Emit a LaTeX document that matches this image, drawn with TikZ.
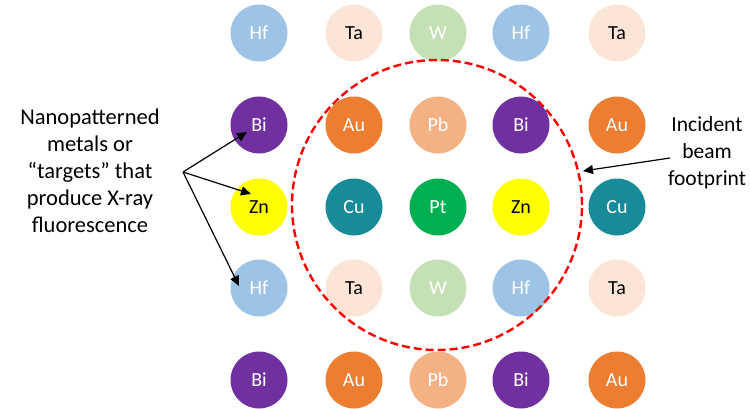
\documentclass[tikz,border=0pt]{standalone}
\usepackage{fontspec}
\setmainfont{Carlito}
\usetikzlibrary{arrows.meta}
\definecolor{cHf}{HTML}{9DC3E6}
\definecolor{cTa}{HTML}{FBE5D6}
\definecolor{cW}{HTML}{C5E0B4}
\definecolor{cBi}{HTML}{7030A0}
\definecolor{cAu}{HTML}{ED7D31}
\definecolor{cPb}{HTML}{F4B183}
\definecolor{cZn}{HTML}{FFFF00}
\definecolor{cCu}{HTML}{178C98}
\definecolor{cPt}{HTML}{00B050}
\definecolor{beam}{HTML}{FF0000}
\tikzset{
  metal/.style={circle, minimum size=57pt, inner sep=0pt, draw=none, font=\fontsize{20}{22}\selectfont},
  whitetxt/.style={metal, text=white},
  blacktxt/.style={metal, text=black},
  Hf/.style={whitetxt, fill=cHf},
  Ta/.style={blacktxt, fill=cTa},
  W/.style={whitetxt, fill=cW},
  Bi/.style={whitetxt, fill=cBi},
  Au/.style={whitetxt, fill=cAu},
  Pb/.style={whitetxt, fill=cPb},
  Zn/.style={blacktxt, fill=cZn},
  Cu/.style={whitetxt, fill=cCu},
  Pt/.style={whitetxt, fill=cPt},
  lbl/.style={align=center, font=\fontsize{22.5}{27}\selectfont, inner sep=0pt},
  lblr/.style={align=center, font=\fontsize{21.5}{27}\selectfont, inner sep=0pt},
  pointer/.style={draw=black, line width=1.2pt, -{Triangle[length=10pt,width=9pt]}},
}
\begin{document}
\begin{tikzpicture}[x=1pt,y=-1pt]
\useasboundingbox (0,0) rectangle (750,408);
% row 1
\node[Hf] (r1a) at (259,33) {Hf};
\node[Ta] (r1b) at (354,33) {Ta};
\node[W]  (r1c) at (438,33) {W};
\node[Hf] (r1d) at (521,33) {Hf};
\node[Ta] (r1e) at (617,33) {Ta};
% row 2
\node[Bi] (r2a) at (259,125) {Bi};
\node[Au] (r2b) at (354,125) {Au};
\node[Pb] (r2c) at (438,125) {Pb};
\node[Bi] (r2d) at (521,125) {Bi};
\node[Au] (r2e) at (617,125) {Au};
% row 3
\node[Zn] (r3a) at (259,207) {Zn};
\node[Cu] (r3b) at (354,207) {Cu};
\node[Pt] (r3c) at (438,207) {Pt};
\node[Zn] (r3d) at (521,207) {Zn};
\node[Cu] (r3e) at (617,207) {Cu};
% row 4
\node[Hf] (r4a) at (259,288) {Hf};
\node[Ta] (r4b) at (354,288) {Ta};
\node[W]  (r4c) at (438,288) {W};
\node[Hf] (r4d) at (521,288) {Hf};
\node[Ta] (r4e) at (617,288) {Ta};
% row 5
\node[Bi] (r5a) at (259,380) {Bi};
\node[Au] (r5b) at (354,380) {Au};
\node[Pb] (r5c) at (438,380) {Pb};
\node[Bi] (r5d) at (521,380) {Bi};
\node[Au] (r5e) at (617,380) {Au};
% beam footprint
\node[circle, draw=beam, dash pattern=on 8pt off 4pt, line width=2.4pt, minimum size=290pt, inner sep=0pt] (beamfp) at (437,205) {};
% labels
\node[lbl] (targets) at (90,171) {Nanopatterned\\metals or\\``targets'' that\\produce X-ray\\fluorescence};
\node[lblr] (incident) at (707,153) {Incident\\beam\\footprint};
\coordinate (fork) at (183,172);
\coordinate (tipBi) at (247,132);
\coordinate (tipZn) at (251,194);
\coordinate (tipHf) at (239,286);
\coordinate (istart) at (670,158);
\coordinate (itip) at (583,171);
\draw[pointer] (fork) -- (tipBi);
\draw[pointer] (fork) -- (tipZn);
\draw[pointer] (fork) -- (tipHf);
\draw[pointer] (istart) -- (itip);
\end{tikzpicture}
\end{document}
